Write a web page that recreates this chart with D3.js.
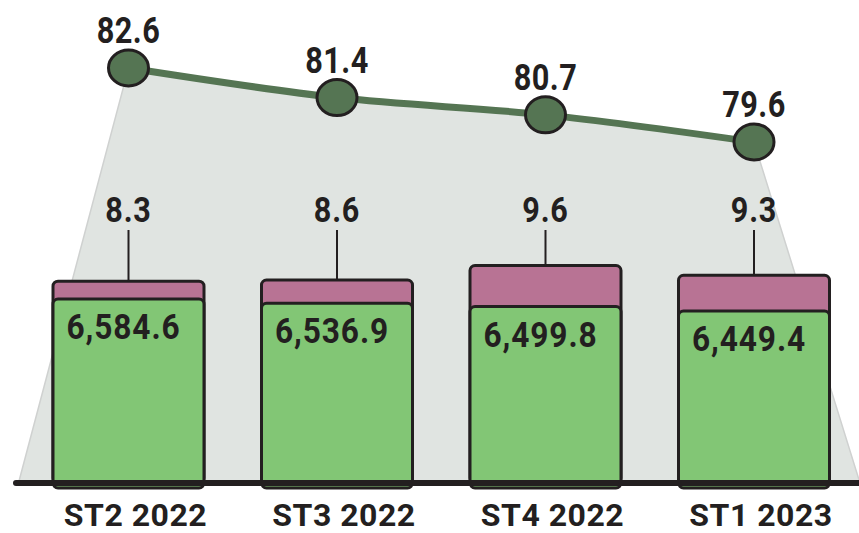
<!DOCTYPE html>
<html>
<head>
<meta charset="utf-8">
<script src="https://cdn.jsdelivr.net/npm/d3@7"></script>
<style>
  body { margin: 0; background: #fff; }
  text { font-family: Roboto, "Liberation Sans", sans-serif; font-weight: bold; fill: #231f20; }
</style>
</head>
<body>
<div id="chart"></div>
<script>
const categories = ["ST2 2022", "ST3 2022", "ST4 2022", "ST1 2023"];
const mainValues = [6584.6, 6536.9, 6499.8, 6449.4];   // green
const topValues = [8.3, 8.6, 9.6, 9.3];                  // purple
const lineValues = [82.6, 81.4, 80.7, 79.6];             // line with dots

const width = 859, height = 533;
const baseY = 483;
const ink = "#231f20";

const svg = d3.select("#chart")
    .append("svg")
    .attr("width", width)
    .attr("height", height);

// x positions (centre of each bar)
const x = d3.scalePoint()
    .domain(categories)
    .range([128.5, 754]);
const barW = 151;

// green part: truncated scale
const yMain = d3.scaleLinear()
    .domain([4512, 6584.6])
    .range([baseY, 299]);

// purple part height
const yTop = d3.scaleLinear()
    .domain([7.3, 9.6])
    .range([0, 41]);

// line
const yLine = d3.scaleLinear()
    .domain([79.6, 82.6])
    .range([142, 68]);

const pts = categories.map((c, i) => [x(c), yLine(lineValues[i])]);

// narrow look: squeeze text horizontally
function place(sel, fx, fy, sx) {
    sel.attr("transform", (d, i) => "translate(" + fx(d, i) + "," + fy(d, i) + ") scale(" + sx + ",1)");
}

// grey area under the line
const curve = d3.line().curve(d3.curveMonotoneX);
const curvePath = curve(pts);
const leftFoot = x(categories[0]) - 110;
const rightFoot = x(categories[3]) + 106;
svg.append("path")
    .attr("d", "M" + leftFoot + "," + baseY + "L" + curvePath.slice(1) +
        "L" + rightFoot + "," + baseY + "Z")
    .attr("fill", "#e0e4e1")
    .attr("stroke", "#cfd1d0")
    .attr("stroke-width", 1.5);

// line
svg.append("path")
    .attr("d", curvePath)
    .attr("fill", "none")
    .attr("stroke", "#557553")
    .attr("stroke-width", 7);

// bars
const bars = svg.append("g")
    .selectAll("g")
    .data(categories)
    .enter()
    .append("g");

// purple (behind green)
bars.append("rect")
    .attr("x", d => x(d) - barW / 2)
    .attr("y", (d, i) => yMain(mainValues[i]) - yTop(topValues[i]))
    .attr("width", barW)
    .attr("height", (d, i) => baseY - yMain(mainValues[i]) + yTop(topValues[i]))
    .attr("rx", 5)
    .attr("fill", "#b87394")
    .attr("stroke", ink)
    .attr("stroke-width", 3);

// green
bars.append("rect")
    .attr("x", d => x(d) - barW / 2)
    .attr("y", (d, i) => yMain(mainValues[i]))
    .attr("width", barW)
    .attr("height", (d, i) => baseY - yMain(mainValues[i]) + 5)
    .attr("rx", 5)
    .attr("fill", "#82c675")
    .attr("stroke", ink)
    .attr("stroke-width", 3);

// leader lines for purple values
bars.append("line")
    .attr("x1", d => x(d))
    .attr("x2", d => x(d))
    .attr("y1", 230)
    .attr("y2", (d, i) => yMain(mainValues[i]) - yTop(topValues[i]))
    .attr("stroke", ink)
    .attr("stroke-width", 2);

bars.append("text")
    .attr("text-anchor", "middle")
    .style("font-size", "36px")
    .style("letter-spacing", "1px")
    .text((d, i) => topValues[i].toFixed(1))
    .call(place, d => x(d), () => 222, 0.85);

bars.append("text")
    .attr("text-anchor", "middle")
    .style("font-size", "36px")
    .style("letter-spacing", "1px")
    .text((d, i) => d3.format(",.1f")(mainValues[i]))
    .call(place, d => x(d) - 5, (d, i) => yMain(mainValues[i]) + 40, 0.88);

// baseline
svg.append("line")
    .attr("x1", 16)
    .attr("x2", width + 5)
    .attr("y1", baseY)
    .attr("y2", baseY)
    .attr("stroke", ink)
    .attr("stroke-width", 6)
    .attr("stroke-linecap", "round");

// category labels
svg.append("g")
    .selectAll("text")
    .data(categories)
    .enter()
    .append("text")
    .attr("x", d => x(d) + 7)
    .attr("y", 526)
    .attr("text-anchor", "middle")
    .style("font-size", "32px")
    .style("letter-spacing", "0.5px")
    .text(d => d);

// dots + labels
svg.append("g")
    .selectAll("ellipse")
    .data(pts)
    .enter()
    .append("ellipse")
    .attr("cx", d => d[0])
    .attr("cy", d => d[1])
    .attr("rx", 20)
    .attr("ry", 18)
    .attr("fill", "#557553")
    .attr("stroke", ink)
    .attr("stroke-width", 3);

svg.append("g")
    .selectAll("text")
    .data(pts)
    .enter()
    .append("text")
    .attr("text-anchor", "middle")
    .style("font-size", "37px")
    .style("letter-spacing", "0.5px")
    .text((d, i) => lineValues[i].toFixed(1))
    .call(place, d => d[0], d => d[1] - 25, 0.83);
</script>
</body>
</html>
